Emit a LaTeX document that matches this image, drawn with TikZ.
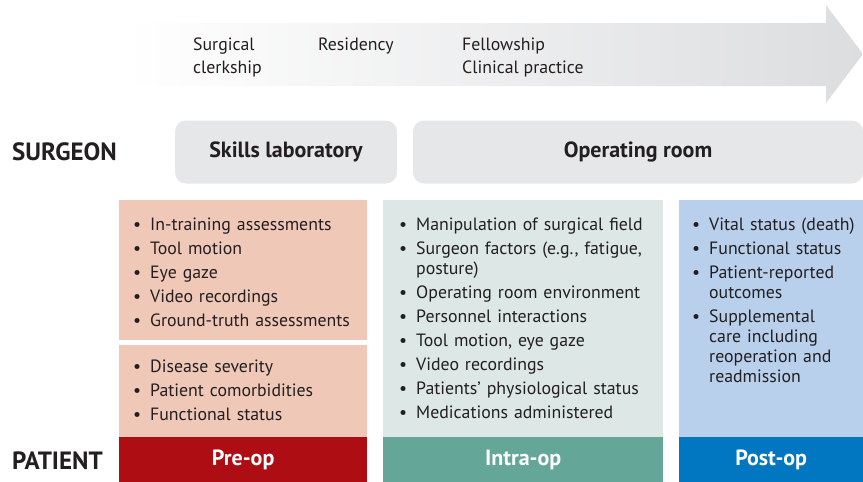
\documentclass[tikz,border=0pt]{standalone}
\usepackage{fontspec}
\setmainfont{PT Sans}
\usetikzlibrary{positioning}

\definecolor{arrowgray}{HTML}{DCDDDF}
\definecolor{roomgray}{HTML}{E6E7E8}
\definecolor{inkgray}{HTML}{231F20}
\definecolor{prelight}{HTML}{EFC8B8}
\definecolor{predark}{HTML}{AF0D14}
\definecolor{intralight}{HTML}{DDE7E5}
\definecolor{intradark}{HTML}{64A698}
\definecolor{postlight}{HTML}{B9D0EC}
\definecolor{postdark}{HTML}{0077C0}

\newcommand{\bul}{\noindent\hangindent=17pt\hangafter=1\makebox[17pt][l]{\textbullet}}

\tikzset{
  stage/.style={anchor=north west, align=left, inner sep=0pt, text=inkgray,
    font=\fontsize{17.8}{23}\selectfont},
  side/.style={anchor=west, inner sep=0pt, text=inkgray,
    font=\fontsize{25}{26}\selectfont\bfseries},
  place/.style={rounded corners=11pt, fill=roomgray, inner sep=0pt,
    minimum height=63pt, text=inkgray, font=\fontsize{22}{24}\selectfont\bfseries},
  panel/.style={anchor=north west, inner sep=0pt},
  items/.style={anchor=north west, inner sep=0pt, text width=280pt, text=inkgray,
    font=\fontsize{17.8}{20}\selectfont,
    execute at begin node={\raggedright\setlength{\parskip}{4pt}}},
  tab/.style={anchor=north west, inner sep=0pt, minimum height=45pt, text=white,
    font=\fontsize{22}{24}\selectfont\bfseries}
}

\begin{document}
\begin{tikzpicture}[x=1pt, y=-1pt]
  \useasboundingbox (0,0) rectangle (863,482);

  % career arrow
  \shade[left color=white, right color=arrowgray]
    (125,23) -- (826,23) -- (826,5) -- (863,54) -- (826,103) -- (826,86) -- (125,86) -- cycle;
  \node[stage] (clerk) at (193,38) {Surgical\\clerkship};
  \node[stage] (resid) at (318,38) {Residency};
  \node[stage] (fellow) at (462,38) {Fellowship\\Clinical practice};

  % rows
  \node[side] (surgeon) at (12,152) {SURGEON};
  \node[side] (patient) at (12,461) {PATIENT};
  \node[place, minimum width=222pt] (lab) at (286,152) {Skills laboratory};
  \node[place, minimum width=450pt] (room) at (638,152) {Operating room};

  % pre-op
  \node[panel, fill=prelight, minimum width=248pt, minimum height=140pt] (prelab) at (119,200) {};
  \node[panel, fill=prelight, minimum width=248pt, minimum height=93pt] (prepat) at (119,345) {};
  \node[tab, fill=predark, minimum width=248pt] (pre) at (119,437) {Pre-op};
  \node[items] (prelist) at (133,218) {%
    \bul In-training assessments\par
    \bul Tool motion\par
    \bul Eye gaze\par
    \bul Video recordings\par
    \bul Ground-truth assessments\par};
  \node[items] (patlist) at (133,360) {%
    \bul Disease severity\par
    \bul Patient comorbidities\par
    \bul Functional status\par};

  % intra-op
  \node[panel, fill=intralight, minimum width=280pt, minimum height=237pt] (intrabox) at (383,200) {};
  \node[tab, fill=intradark, minimum width=280pt] (intra) at (383,437) {Intra-op};
  \node[items] (intralist) at (399,218) {%
    \bul Manipulation of surgical field\par
    \bul Surgeon factors (e.g., fatigue,\newline posture)\par
    \bul Operating room environment\par
    \bul Personnel interactions\par
    \bul Tool motion, eye gaze\par
    \bul Video recordings\par
    \bul Patients’ physiological status\par
    \bul Medications administered\par};

  % post-op
  \node[panel, fill=postlight, minimum width=184pt, minimum height=237pt] (postbox) at (679,200) {};
  \node[tab, fill=postdark, minimum width=184pt] (post) at (679,437) {Post-op};
  \node[items] (postlist) at (692,218) {%
    \bul Vital status (death)\par
    \bul Functional status\par
    \bul Patient-reported\newline outcomes\par
    \bul Supplemental\newline care including\newline reoperation and\newline readmission\par};
\end{tikzpicture}
\end{document}
